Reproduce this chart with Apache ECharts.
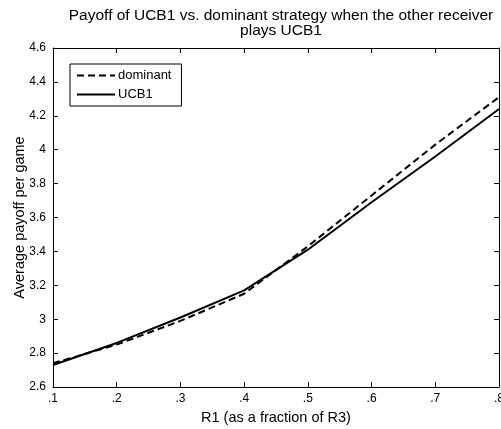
<!DOCTYPE html>
<html>
<head>
<meta charset="utf-8">
<script src="https://cdn.jsdelivr.net/npm/echarts@6/dist/echarts.min.js"></script>
<style>html,body{margin:0;padding:0;background:#fff}#c{width:501px;height:429px}</style>
</head>
<body>
<div id="c"></div>
<script>
var categories = ['.1', '.2', '.3', '.4', '.5', '.6', '.7', '.8'];
var dominant = [2.74, 2.85, 2.99, 3.15, 3.43, 3.73, 4.03, 4.31];
var ucb1 = [2.73, 2.86, 3.01, 3.17, 3.41, 3.69, 3.96, 4.24];
var yTicks = [2.6, 2.8, 3, 3.2, 3.4, 3.6, 3.8, 4, 4.2, 4.4, 4.6];

var font = '"Liberation Sans", Arial, Helvetica, sans-serif';
var chart = echarts.init(document.getElementById('c'));
var axisLine = {show: true, lineStyle: {color: '#000', width: 1}};
var tick = {show: true, inside: true, length: 5, lineStyle: {color: '#000'}};
chart.setOption({
  animation: false,
  title: {
    text: 'Payoff of UCB1 vs. dominant strategy when the other receiver\nplays UCB1',
    left: 276, top: 3, textAlign: 'center',
    textStyle: {fontFamily: font, fontSize: 15.5, fontWeight: 'normal', color: '#000', lineHeight: 15}
  },
  legend: {
    orient: 'vertical', left: 70, top: 64,
    data: ['dominant', 'UCB1'],
    itemWidth: 38, itemHeight: 10, itemGap: 6,
    padding: [5, 10, 5, 6],
    borderColor: '#000', borderWidth: 1,
    backgroundColor: '#fff',
    itemStyle: {color: 'rgba(0,0,0,0)', borderWidth: 0},
    textStyle: {fontFamily: font, fontSize: 13, color: '#000', padding: [0, 0, 0, -2]}
  },
  grid: {left: 53, right: 2, top: 48, bottom: 42, containLabel: false, outerBoundsMode: 'none'},
  xAxis: [{
    type: 'category', data: categories, boundaryGap: false,
    axisLine: axisLine, axisTick: Object.assign({alignWithLabel: true}, tick),
    axisLabel: {color: '#000', fontFamily: font, fontSize: 12, margin: 6, interval: 0},
    splitLine: {show: false},
    name: 'R1 (as a fraction of R3)', nameLocation: 'middle', nameGap: 23,
    nameTextStyle: {fontFamily: font, fontSize: 14.5, color: '#000'}
  }, {
    type: 'category', data: categories, boundaryGap: false, position: 'top',
    axisLine: axisLine, axisTick: tick, axisLabel: {show: false}, splitLine: {show: false}
  }],
  yAxis: [{
    type: 'value', min: 2.6, max: 4.6, interval: 0.2,
    axisLine: axisLine, axisTick: tick,
    axisLabel: {color: '#000', fontFamily: font, fontSize: 12, margin: 7,
      formatter: function (v) { return String(+v.toFixed(1)); }},
    splitLine: {show: false},
    name: 'Average payoff per game', nameLocation: 'middle', nameGap: 26, nameMoveOverlap: false,
    nameTextStyle: {fontFamily: font, fontSize: 14.5, color: '#000'}
  }, {
    type: 'value', min: 2.6, max: 4.6, interval: 0.2, position: 'right',
    axisLine: axisLine, axisTick: tick, axisLabel: {show: false}, splitLine: {show: false}
  }],
  series: [{
    name: 'dominant', type: 'line', data: dominant, symbol: 'none',
    lineStyle: {color: '#000', width: 2, type: [7, 4]}, itemStyle: {color: '#000'}
  }, {
    name: 'UCB1', type: 'line', data: ucb1, symbol: 'none',
    lineStyle: {color: '#000', width: 2, type: 'solid'}, itemStyle: {color: '#000'}
  }]
});
</script>
</body>
</html>
